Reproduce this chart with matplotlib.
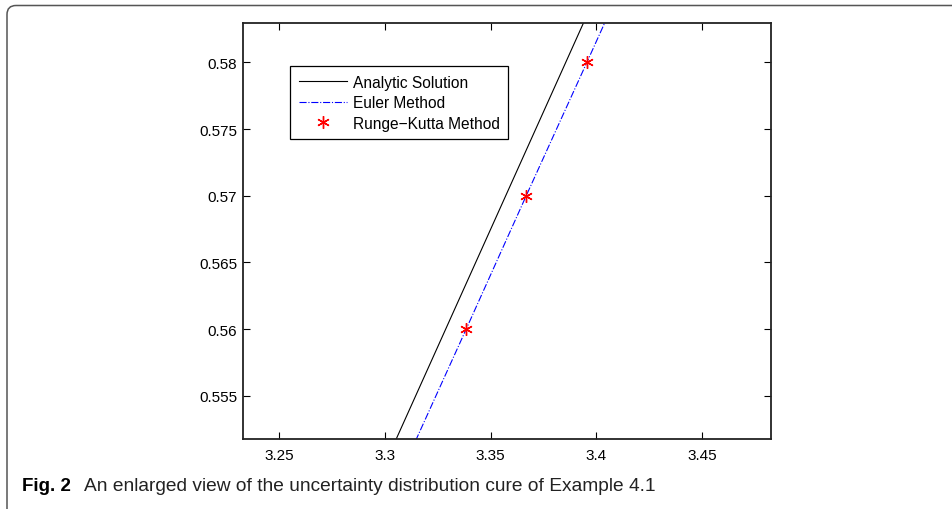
import matplotlib
matplotlib.use('Agg')
import matplotlib.pyplot as plt
from matplotlib.patches import FancyBboxPatch
from matplotlib.transforms import IdentityTransform

# values
y_vals = [0.55, 0.56, 0.57, 0.58, 0.59]
analytic_x = [3.3003, 3.3287, 3.3571, 3.3855, 3.4139]
euler_x = [3.3098, 3.3384, 3.3668, 3.3955, 3.4240]
rk_x = [3.3384, 3.3668, 3.3955]
rk_y = [0.56, 0.57, 0.58]

xticks = [3.25, 3.3, 3.35, 3.4, 3.45]
xticklabels = ['3.25', '3.3', '3.35', '3.4', '3.45']
yticks = [0.555, 0.56, 0.565, 0.57, 0.575, 0.58]
yticklabels = ['0.555', '0.56', '0.565', '0.57', '0.575', '0.58']

plt.rcParams['font.family'] = ['Liberation Sans', 'DejaVu Sans']

W, H = 953, 510
fig = plt.figure(figsize=(W / 100, H / 100), dpi=100)

# caption frame (open to the right / bottom)
frame = FancyBboxPatch((7, -40), 1100, 510 - 6.5 + 40,
                       boxstyle='round,pad=0,rounding_size=9',
                       transform=IdentityTransform(), fill=False,
                       edgecolor='#555555', linewidth=1.1)
fig.patches.append(frame)

ax = fig.add_axes([243.3 / W, (H - 440.3) / H, 527.4 / W, 416 / H])
ax.plot(analytic_x, y_vals, color='black', linewidth=0.8, label='Analytic Solution')
ax.plot(euler_x, y_vals, color='blue', linestyle='-.', linewidth=0.8, label='Euler Method')
ax.plot(rk_x, rk_y, linestyle='none', marker=(6, 2, 0), markersize=9,
        markeredgewidth=1.0, color='red', label='Runge\u2212Kutta Method')

ax.set_xlim(3.2329, 3.4825)
ax.set_ylim(0.55173, 0.58293)
ax.set_xticks(xticks)
ax.set_xticklabels(xticklabels)
ax.set_yticks(yticks)
ax.set_yticklabels(yticklabels)
ax.tick_params(direction='in', length=5, width=0.8, top=True, right=True,
               labelsize=11, colors='black')
ax.tick_params(axis='y', pad=4.5)
ax.tick_params(axis='x', pad=6)
for s in ax.spines.values():
    s.set_linewidth(1.3)
    s.set_color('#222222')

leg = ax.legend(loc='upper left', bbox_to_anchor=(0.0886, 0.8966),
                borderaxespad=0, fontsize=11.2, fancybox=False, framealpha=1,
                edgecolor='black', handlelength=3.1, handletextpad=0.4,
                labelspacing=0.35, borderpad=0.55)
leg.get_frame().set_linewidth(0.9)

fig.text(22 / W, (H - 491) / H, 'Fig. 2', fontsize=13.5, fontweight='bold',
         va='baseline', ha='left')
fig.text(84 / W, (H - 491) / H,
         'An enlarged view of the uncertainty distribution cure of Example 4.1',
         fontsize=13.8, va='baseline', ha='left', color='#222222')

fig.savefig('out.png', dpi=100)
